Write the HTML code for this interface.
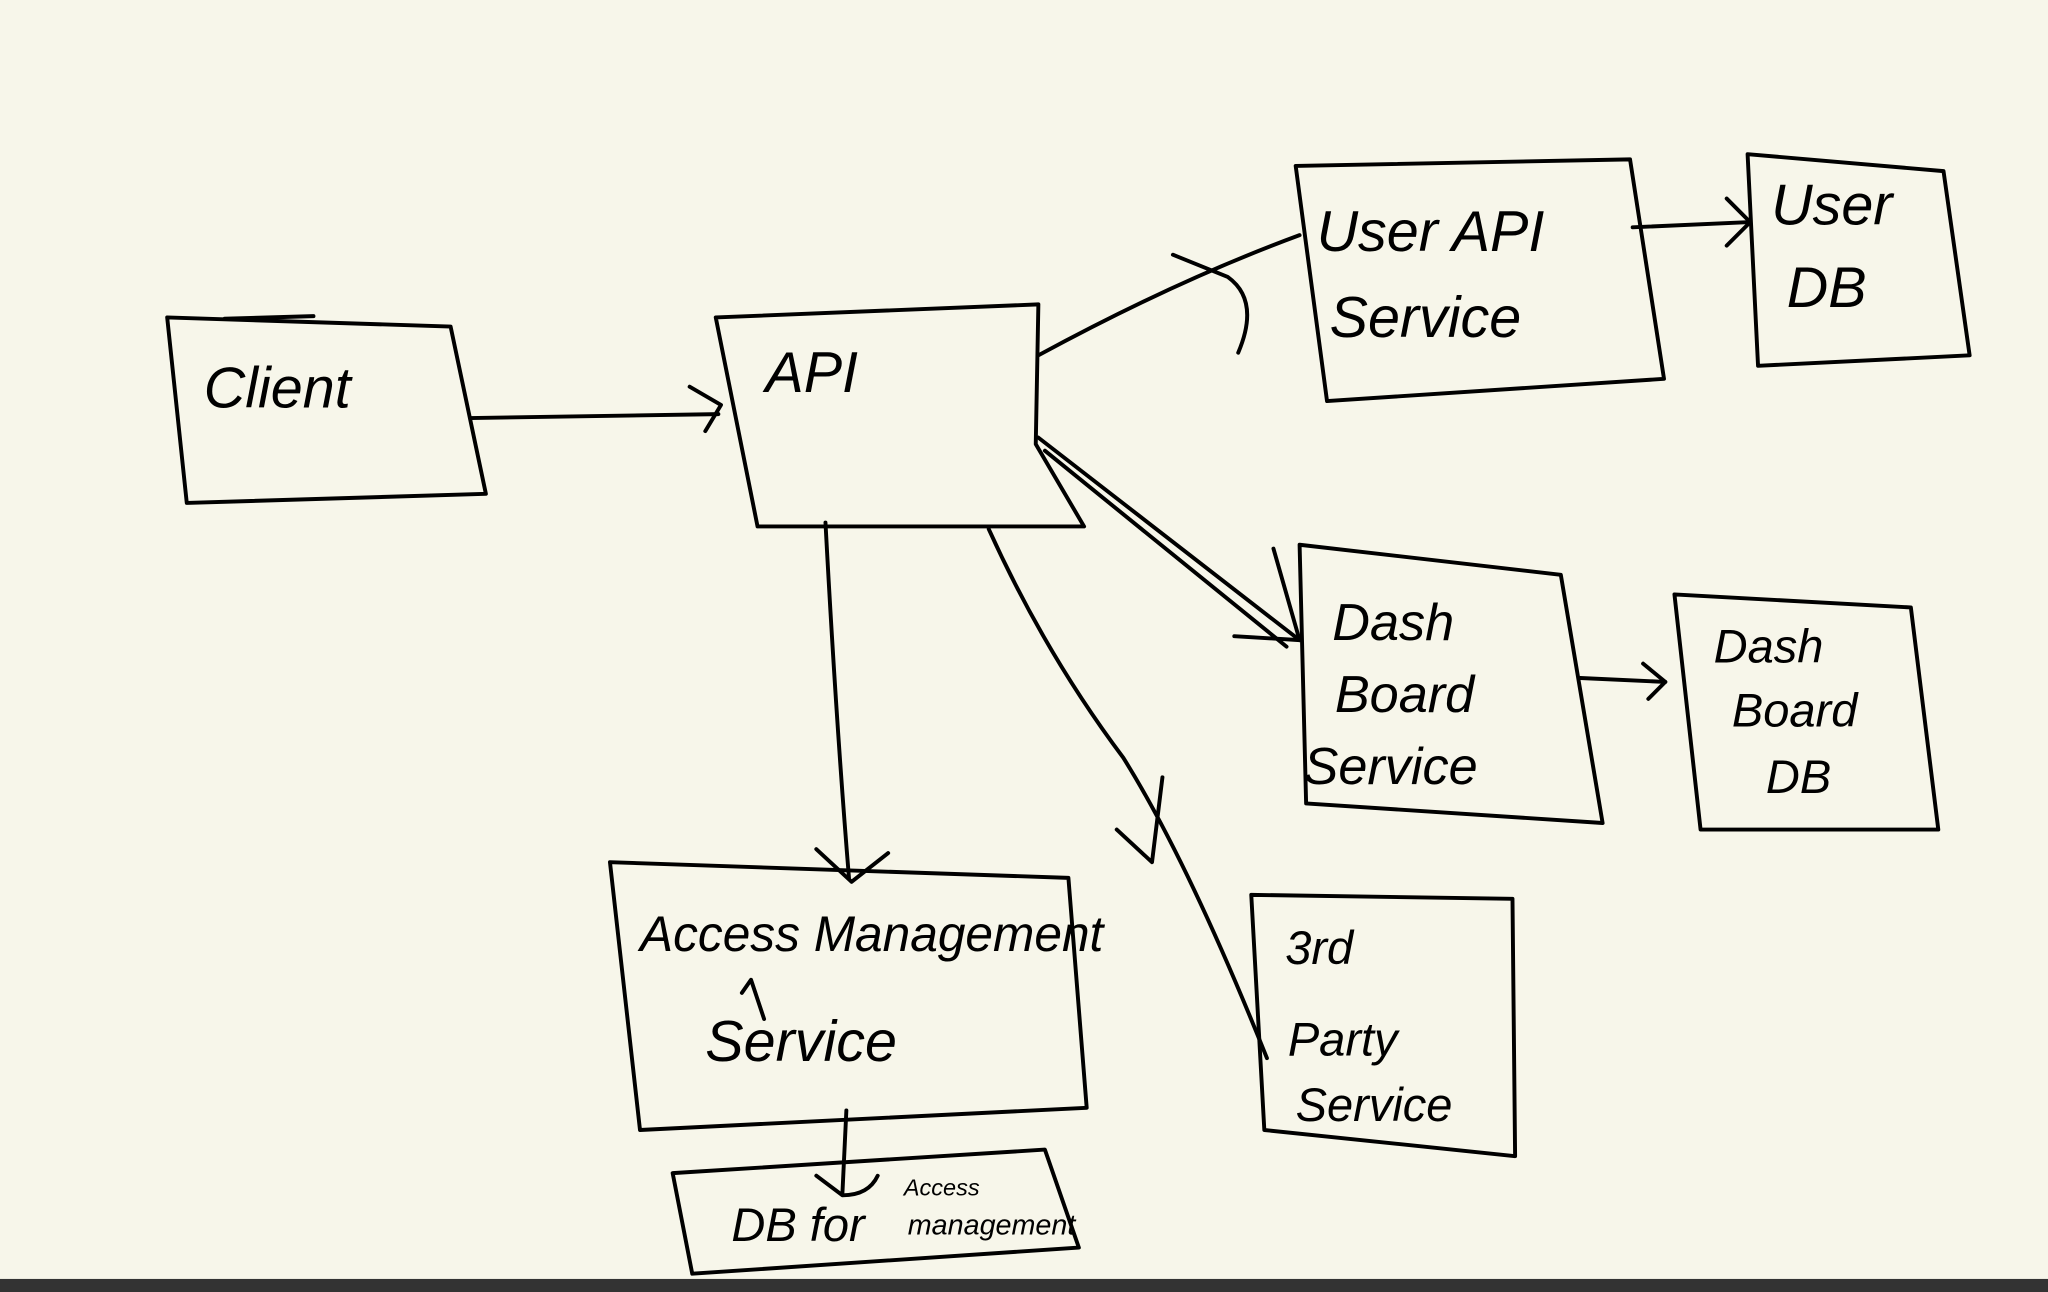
<!DOCTYPE html>
<html><head><meta charset="utf-8"><style>
html,body{margin:0;padding:0;background:#f7f6ea;}
svg{display:block;}
text{font-family:"Liberation Sans",sans-serif;fill:#000;}
</style></head><body>
<svg width="2048" height="1292" viewBox="0 0 1568 989" xmlns="http://www.w3.org/2000/svg" preserveAspectRatio="none">
<rect width="1568" height="989" fill="#f7f6ea"/>
<rect x="0" y="979" width="1568" height="10" fill="#333"/>
<g fill="none" stroke="#000" stroke-width="3" stroke-linecap="round" stroke-linejoin="round">
<!-- Client -->
<path d="M128 243 L345 250 L372 378 L143 385 Z"/>
<path d="M172 244 L240 242"/>
<!-- API -->
<path d="M548 243 L795 233 L793 340 L830 403 L580 403 Z"/>
<!-- User API Service -->
<path d="M992 127 L1248 122 L1274 290 L1016 307 Z"/>
<!-- User DB -->
<path d="M1338 118 L1488 131 L1508 272 L1346 280 Z"/>
<!-- Dash Board Service -->
<path d="M995 417 L1195 440 L1227 630 L1000 615 Z"/>
<!-- Dash Board DB -->
<path d="M1282 455 L1463 465 L1484 635 L1302 635 Z"/>
<!-- Access Management -->
<path d="M467 660 L818 672 L832 848 L490 865 Z"/>
<!-- 3rd Party -->
<path d="M958 685 L1158 688 L1160 885 L968 865 Z"/>
<!-- DB for management -->
<path d="M515 898 L800 880 L826 955 L530 975 Z"/>
<!-- connectors -->
<path d="M360 320 L550 317"/>
<path d="M528 296 L552 310 L540 330"/>
<path d="M795 272 Q900 215 995 180"/>
<path d="M898 195 L940 212 Q965 230 948 270"/>
<path d="M1250 174 L1340 170"/>
<path d="M1322 152 L1340 170 L1322 188"/>
<path d="M795 335 L995 490"/>
<path d="M800 345 L985 495"/>
<path d="M945 487 L995 490 L975 420"/>
<path d="M1210 519 L1275 522"/>
<path d="M1258 508 L1275 522 L1262 535"/>
<path d="M632 400 Q640 550 650 672"/>
<path d="M625 650 L652 675 L680 653"/>
<path d="M757 405 Q800 500 860 580 Q910 660 970 810"/>
<path d="M855 635 L882 660 L890 595"/>
<path d="M648 850 L645 913"/>
<path d="M625 900 L645 915 Q665 915 672 900"/>
<path d="M568 760 L575 750 L585 780"/>
</g>
<g font-size="44" font-style="italic">
<text x="156" y="312">Client</text>
<text x="586" y="300">API</text>
<text x="1008" y="192">User API</text>
<text x="1018" y="258">Service</text>
<text x="1356" y="172">User</text>
<text x="1368" y="235">DB</text>
<text x="1020" y="490" font-size="40">Dash</text>
<text x="1022" y="545" font-size="40">Board</text>
<text x="998" y="600" font-size="40">Service</text>
<text x="1312" y="507" font-size="36">Dash</text>
<text x="1326" y="556" font-size="36">Board</text>
<text x="1352" y="607" font-size="36">DB</text>
<text x="490" y="728" font-size="38">Access Management</text>
<text x="540" y="812" font-size="44">Service</text>
<text x="984" y="738" font-size="36">3rd</text>
<text x="986" y="808" font-size="36">Party</text>
<text x="992" y="858" font-size="36">Service</text>
<text x="560" y="950" font-size="36">DB for</text>
<text x="695" y="945" font-size="22">management</text>
<text x="692" y="915" font-size="18">Access</text>
</g>
</svg>
</body></html>
